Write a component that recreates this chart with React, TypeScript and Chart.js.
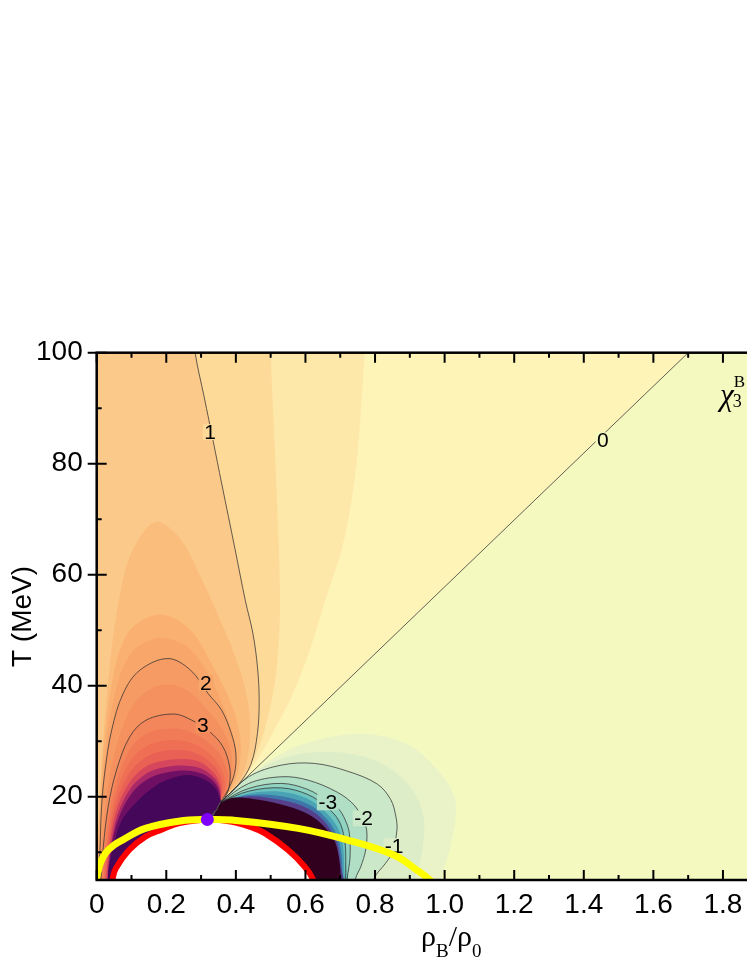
import React, { useEffect, useRef } from 'react';
import { Chart, registerables } from 'chart.js';
Chart.register(...registerables);

type P = [number, number];

// axis ranges / ticks
const xRange: P = [0, 2.0];
const yRange: P = [5, 100];
const xMajorTicks = [0, 0.2, 0.4, 0.6, 0.8, 1.0, 1.2, 1.4, 1.6, 1.8, 2.0];
const xMinorTicks = [0.1, 0.3, 0.5, 0.7, 0.9, 1.1, 1.3, 1.5, 1.7, 1.9];
const yMajorTicks = [20, 40, 60, 80, 100];
const yMinorTicks = [10, 30, 50, 70, 90];

// convergence point of the contours
const CP: P = [0.356, 19.0];

// ---- filled contour regions (rho_B/rho_0, T) ----
const regionBase: P[] = [[-0.1, 0], [-0.1, 110], [2.1, 110], [2.1, 0]];
const regionPos0: P[] = [[-0.1, 0], [-0.1, 110], [1.866, 110], CP, [0.356, 0]];
const regionPos1: P[] = [[-0.1, 0], [-0.1, 110], [0.78, 110], [0.77, 100], [0.76, 90], [0.743, 78], [0.71, 66], [0.657, 55.4], [0.61, 46], [0.56, 38], [0.51, 32], [0.47, 27.5], [0.418, 22.9], CP, [0.356, 0]];
const regionPos2: P[] = [[-0.1, 0], [-0.1, 110], [0.495, 110], [0.5, 100], [0.515, 78], [0.527, 55.4], [0.52, 45], [0.505, 38], [0.48, 31.5], [0.452, 26.8], [0.41, 22.4], CP, [0.356, 0]];
const contour1: P[] = [[0.267, 110], [0.283, 100], [0.309, 92], [0.335, 84], [0.359, 76.5], [0.398, 64.5], [0.427, 55.4], [0.449, 49.4], [0.462, 43.4], [0.467, 37.4], [0.462, 31.4], [0.443, 25.8], [0.405, 22], CP];
const regionBulge1: P[] = [[-0.02, 0], [-0.008, 5], [0.004, 15], [0.018, 30], [0.04, 45], [0.064, 55.4], [0.1, 64], [0.169, 69.5], [0.24, 66.5], [0.3, 59.5], [0.33, 55.4], [0.4, 45], [0.435, 37], [0.44, 30], [0.425, 25], [0.395, 21.7], CP, [0.356, 0]];
const regionBulge2: P[] = [[-0.015, 0], [-0.004, 5], [0.006, 15], [0.022, 30], [0.048, 42], [0.085, 49], [0.135, 52], [0.198, 52.7], [0.27, 50], [0.33, 44], [0.385, 37], [0.412, 31], [0.41, 25.5], [0.387, 21.5], CP, [0.356, 0]];
const regionBulge3: P[] = [[-0.01, 0], [0.0, 5], [0.009, 15], [0.025, 28], [0.054, 39], [0.094, 45.5], [0.145, 48], [0.202, 48.5], [0.27, 46.5], [0.33, 41], [0.372, 35], [0.398, 29.5], [0.402, 25.5], [0.382, 21.3], CP, [0.356, 0]];
const contour2: P[] = [[0.0, 0], [0.005, 5], [0.009, 9.8], [0.014, 18.2], [0.024, 24.8], [0.043, 32], [0.076, 38.6], [0.124, 42.8], [0.205, 44.9], [0.27, 42.8], [0.32, 38.6], [0.359, 35.6], [0.387, 31.4], [0.4, 27.8], [0.396, 24.2], [0.377, 21.2], CP];
const regionLobe2b: P[] = [[0.003, 0], [0.008, 5], [0.014, 10.5], [0.024, 18.2], [0.04, 24.8], [0.068, 31.5], [0.11, 37], [0.16, 39.6], [0.213, 40.2], [0.27, 38.7], [0.32, 35.5], [0.36, 32.3], [0.385, 28.5], [0.39, 24.5], [0.376, 20.8], CP, [0.356, 0]];
const contour3: P[] = [[0.006, 0], [0.012, 5], [0.019, 11], [0.033, 18.2], [0.057, 24.8], [0.095, 30.8], [0.142, 33.8], [0.221, 34.9], [0.273, 33.8], [0.325, 31.7], [0.363, 29.0], [0.382, 25.4], [0.382, 22.4], [0.373, 20.3], CP];
const regionL3a: P[] = [[0.01, 0], [0.016, 5], [0.024, 11], [0.039, 18], [0.066, 24.5], [0.105, 29.3], [0.155, 31.7], [0.228, 32.3], [0.28, 31.4], [0.33, 29.3], [0.362, 26.8], [0.377, 23.7], [0.37, 20.8], CP, [0.356, 0]];
const regionL3b: P[] = [[0.015, 0], [0.02, 5], [0.028, 11], [0.045, 17.8], [0.074, 23.8], [0.115, 27.8], [0.165, 29.7], [0.235, 30.2], [0.285, 29.4], [0.333, 27.3], [0.36, 24.8], [0.37, 22.5], [0.365, 20.5], CP, [0.356, 0]];
const regionL3c: P[] = [[0.02, 0], [0.024, 5], [0.032, 11], [0.05, 17.5], [0.082, 23], [0.125, 26.4], [0.175, 28], [0.243, 28.4], [0.29, 27.7], [0.335, 25.7], [0.358, 23.4], [0.362, 21.2], CP, [0.356, 0]];
const regionL3d: P[] = [[0.024, 0], [0.027, 5], [0.036, 11], [0.055, 17.2], [0.09, 22.2], [0.135, 25.2], [0.185, 26.4], [0.25, 26.8], [0.295, 26.3], [0.335, 24.4], [0.355, 22.3], [0.358, 20.5], CP, [0.356, 0]];
const regionL3e: P[] = [[0.027, 0], [0.03, 5], [0.04, 11], [0.06, 16.8], [0.097, 21.5], [0.143, 24.2], [0.195, 25.3], [0.255, 25.6], [0.3, 25.1], [0.337, 23.4], [0.353, 21.6], CP, [0.356, 0]];
const regionL3f: P[] = [[0.029, 0], [0.032, 5], [0.042, 11], [0.064, 16.3], [0.103, 20.8], [0.15, 23.3], [0.205, 24.4], [0.26, 24.7], [0.305, 24.1], [0.338, 22.6], [0.352, 21], CP, [0.356, 0]];
const regionPurple: P[] = [[0.03, 0], [0.033, 5], [0.035, 7.4], [0.069, 15.3], [0.12, 19.4], [0.17, 22], [0.22, 23.4], [0.264, 23.9], [0.31, 23.1], [0.34, 21.6], [0.352, 20], CP, [0.356, 0]];

const regionNeg1: P[] = [CP, [0.42, 22.7], [0.5, 26.6], [0.6, 29.6], [0.75, 31.3], [0.88, 29.8], [0.97, 25.5], [1.03, 19.5], [1.02, 12], [0.99, 5], [0.985, 0], [0.33, 0], [0.33, 16]];
const regionNeg2: P[] = [CP, [0.44, 23.9], [0.53, 26.8], [0.63, 28.0], [0.74, 27.6], [0.84, 25.2], [0.91, 21], [0.94, 16], [0.935, 10], [0.915, 5], [0.91, 0], [0.33, 0], [0.33, 16]];
const contourM1: P[] = [CP, [0.437, 23.6], [0.531, 25.7], [0.626, 26.0], [0.721, 24.6], [0.806, 22.3], [0.845, 19.5], [0.86, 16.4], [0.863, 14.0], [0.85, 10], [0.83, 8], [0.797, 5.2], [0.785, 0]];
const contourM2: P[] = [CP, [0.437, 22.4], [0.531, 23.6], [0.607, 23.0], [0.692, 20.8], [0.74, 18.5], [0.762, 16.2], [0.776, 14], [0.773, 10.4], [0.759, 7.4], [0.744, 5.2], [0.738, 0]];
const contourM3: P[] = [CP, [0.437, 21.5], [0.531, 22.4], [0.607, 21.3], [0.664, 19.2], [0.695, 17.8], [0.713, 16.0], [0.726, 13.5], [0.728, 9], [0.72, 5.2], [0.716, 0]];
const contourM4: P[] = [CP, [0.437, 21.0], [0.531, 21.6], [0.607, 20.4], [0.66, 18.2], [0.695, 15.8], [0.712, 12.5], [0.716, 8.5], [0.713, 0]];
const regionG2: P[] = [CP, [0.437, 20.6], [0.531, 20.9], [0.607, 19.6], [0.658, 17.2], [0.693, 14.4], [0.708, 11], [0.711, 7], [0.709, 0]];
const regionG3: P[] = [CP, [0.437, 20.3], [0.531, 20.1], [0.607, 18.7], [0.655, 16.4], [0.69, 13.2], [0.704, 9.5], [0.706, 5], [0.705, 0]];
const regionG4: P[] = [CP, [0.437, 20.1], [0.531, 19.4], [0.607, 17.9], [0.652, 15.7], [0.688, 12.2], [0.7, 8.5], [0.703, 0]];
const regionDark: P[] = [CP, [0.39, 19.8], [0.45, 19.6], [0.531, 18.6], [0.6, 17.1], [0.645, 15.2], [0.68, 12.5], [0.695, 9.5], [0.701, 6], [0.702, 0]];
const negClose: P[] = [[0.33, 0], [0.33, 16]];

// phase boundaries
const spinodalRed: P[] = [[0.038, 3], [0.045, 5], [0.055, 7.1], [0.093, 10.4], [0.14, 12.8], [0.188, 14.1], [0.235, 15.2], [0.318, 15.9], [0.389, 15.5], [0.44, 14.6], [0.484, 13.4], [0.55, 10.4], [0.598, 7.4], [0.621, 5.2], [0.628, 3]];
const coexistYellow: P[] = [[-0.004, 4], [0.003, 6.3], [0.012, 8.3], [0.026, 9.9], [0.05, 11.3], [0.074, 12.2], [0.14, 14.3], [0.235, 15.6], [0.318, 15.9], [0.389, 15.8], [0.579, 14.3], [0.721, 12.2], [0.854, 9.5], [0.92, 6.8], [0.958, 5], [0.97, 4]];
const stairLine: P[] = [[0.318, 15.9], [0.33, 16.4], [0.336, 17.2], [0.345, 17.6], [0.35, 18.4], CP];
const criticalPoint: P[] = [[0.318, 15.9]];
const zeroLine: P[] = [CP, [1.866, 110]];

// contour labels
const labelText = ['0', '1', '2', '3', '-3', '-2', '-1'];
const labelX = [1.455, 0.326, 0.314, 0.305, 0.664, 0.767, 0.855];
const labelY = [84.2, 85.7, 40.5, 32.9, 19.0, 16.1, 11.1];

const SANS = '"Liberation Sans", Arial, Helvetica, sans-serif';
const SERIF = '"Liberation Serif", "Times New Roman", serif';

const toXY = (pts: P[]) => pts.map(([x, y]) => ({ x, y }));

export default function App() {
  const ref = useRef<HTMLCanvasElement | null>(null);

  useEffect(() => {
    const layers: any[] = [];
    const fillLayer = (pts: P[], color: string, tension = 0.35) =>
      layers.push({ data: toXY(pts), showLine: true, fill: 'shape', backgroundColor: color, borderWidth: 0, pointRadius: 0, pointHoverRadius: 0, tension, clip: 0 });
    const lineLayer = (pts: P[], color: string, width: number, tension = 0.35, fill: any = false, bg = 'transparent') =>
      layers.push({ data: toXY(pts), showLine: true, fill, backgroundColor: bg, borderColor: color, borderWidth: width, pointRadius: 0, pointHoverRadius: 0, tension, clip: 0 });

    fillLayer(regionBase, '#F4F9C0', 0);
    fillLayer(regionPos0, '#FEF4B8', 0);
    fillLayer(regionPos1, '#FDE8AA');
    fillLayer(regionPos2, '#FDDA98');
    fillLayer([[-0.1, 0], [-0.1, 110], ...contour1, [0.356, 0]], '#FBCA8A');
    fillLayer(regionBulge1, '#FABD7C');
    fillLayer(regionBulge2, '#F9B071');
    fillLayer(regionBulge3, '#F8A66A');
    fillLayer([...contour2, [0.356, 0]], '#F69B64');
    fillLayer(regionLobe2b, '#F5915F');
    fillLayer([...contour3, [0.356, 0]], '#F3865B');
    fillLayer(regionL3a, '#F27B57');
    fillLayer(regionL3b, '#EF6F55');
    fillLayer(regionL3c, '#E96055');
    fillLayer(regionL3d, '#D6465C');
    fillLayer(regionL3e, '#A82868');
    fillLayer(regionL3f, '#6E0F63');
    fillLayer(regionPurple, '#45075A');

    fillLayer(regionNeg1, '#E9F3C7');
    fillLayer(regionNeg2, '#DCEDC8');
    fillLayer([...contourM1, ...negClose], '#CBE8C8');
    fillLayer([...contourM2, ...negClose], '#B0DFC5');
    fillLayer([...contourM3, ...negClose], '#90D3C1');
    fillLayer([...contourM4, ...negClose], '#6CC2BC');
    fillLayer([...regionG2, ...negClose], '#4AA3B5');
    fillLayer([...regionG3, ...negClose], '#3E76A9');
    fillLayer([...regionG4, ...negClose], '#573F8C');
    fillLayer([...regionDark, ...negClose], '#31001E');

    const cl = 'rgba(50,50,50,0.85)';
    lineLayer(zeroLine, cl, 0.9, 0);
    lineLayer(contour1, cl, 0.9);
    lineLayer(contour2, cl, 0.9);
    lineLayer(contour3, cl, 0.9);
    lineLayer(contourM1, cl, 0.9);
    lineLayer(contourM2, cl, 0.9);
    lineLayer(contourM3, cl, 0.9);
    lineLayer(contourM4, cl, 0.9);
    lineLayer(stairLine, 'rgba(80,80,80,0.9)', 1, 0);

    const firstOverlay = layers.length;
    lineLayer(spinodalRed, '#FF0000', 6, 0.4, 'start', '#FFFFFF');
    lineLayer(coexistYellow, '#FFFF00', 7, 0.4);

    layers.push({ data: toXY(criticalPoint), showLine: false, pointRadius: 6.5, pointHoverRadius: 6.5, backgroundColor: '#8000FF', pointBackgroundColor: '#8000FF', pointBorderWidth: 0, borderWidth: 0, clip: 0 });

    layers.forEach((d, i) => { d.order = -i; });

    const LABEL_FONT = `21px ${SANS}`;

    // contour labels with a gap in the line (background sampled from the fill)
    const labelPlugin = {
      id: 'contourLabels',
      beforeDatasetDraw(chart: any, args: any) {
        if (args.index !== firstOverlay) return;
        const { ctx, scales } = chart;
        const xs = scales.x, ys = scales.y;
        ctx.save();
        ctx.font = LABEL_FONT;
        ctx.textAlign = 'center';
        ctx.textBaseline = 'middle';
        labelText.forEach((t, i) => {
          const px = xs.getPixelForValue(labelX[i]);
          const py = ys.getPixelForValue(labelY[i]);
          const w = ctx.measureText(t).width;
          const probes = [[px - w / 2 - 2, py], [px + w / 2 + 2, py], [px, py - 10], [px, py + 10]];
          const cols = probes.map(([qx, qy]) => {
            const d = ctx.getImageData(Math.round(qx), Math.round(qy), 1, 1).data;
            return [d[0], d[1], d[2], d[0] + d[1] + d[2]];
          }).sort((a, b) => b[3] - a[3]);
          const c = cols[1];
          ctx.fillStyle = `rgb(${c[0]},${c[1]},${c[2]})`;
          ctx.fillRect(px - w / 2 - 1.5, py - 8, w + 3, 16);
          ctx.fillStyle = '#000';
          ctx.fillText(t, px, py + 1);
        });
        ctx.restore();
      },
    };

    const decor = {
      id: 'decor',
      afterDatasetsDraw(chart: any) {
        const { ctx, chartArea: a, scales } = chart;
        const xs = scales.x, ys = scales.y;
        ctx.save();
        // frame
        ctx.strokeStyle = '#000';
        ctx.lineWidth = 2.5;
        ctx.strokeRect(a.left, a.top, a.right - a.left, a.bottom - a.top);
        // ticks
        ctx.lineWidth = 2;
        ctx.beginPath();
        xMajorTicks.forEach(v => { const p = xs.getPixelForValue(v); ctx.moveTo(p, a.bottom); ctx.lineTo(p, a.bottom - 10); ctx.moveTo(p, a.top); ctx.lineTo(p, a.top + 10); });
        xMinorTicks.forEach(v => { const p = xs.getPixelForValue(v); ctx.moveTo(p, a.bottom); ctx.lineTo(p, a.bottom - 5); ctx.moveTo(p, a.top); ctx.lineTo(p, a.top + 5); });
        yMajorTicks.forEach(v => { const p = ys.getPixelForValue(v); ctx.moveTo(a.left - 9, p); ctx.lineTo(a.left + 10, p); });
        yMinorTicks.forEach(v => { const p = ys.getPixelForValue(v); ctx.moveTo(a.left, p); ctx.lineTo(a.left + 5, p); });
        ctx.stroke();

        ctx.fillStyle = '#000';
        // y title
        ctx.save();
        ctx.translate(30.5, 616.5);
        ctx.rotate(-Math.PI / 2);
        ctx.font = `28px ${SANS}`;
        ctx.textAlign = 'center';
        ctx.textBaseline = 'alphabetic';
        ctx.fillText('T (MeV)', 0, 0);
        ctx.restore();

        // x title rho_B / rho_0
        ctx.textAlign = 'left';
        ctx.textBaseline = 'alphabetic';
        let cx = 421;
        const base = 946;
        const part = (t: string, size: number, dy: number) => {
          ctx.font = `${size}px ${SERIF}`;
          ctx.fillText(t, cx, base + dy);
          cx += ctx.measureText(t).width;
        };
        part('ρ', 30, 0);
        part('B', 19, 11);
        part('/', 30, 0);
        part('ρ', 30, 0);
        part('0', 19, 11);

        // chi_3^B
        ctx.font = `italic 31px ${SERIF}`;
        ctx.fillText('χ', 720, 405);
        const w = ctx.measureText('χ').width;
        ctx.font = `18px ${SERIF}`;
        ctx.fillText('3', 719 + w, 407);
        ctx.font = `17px ${SERIF}`;
        ctx.fillText('B', 720 + w, 386.7);
        ctx.restore();
      },
    };

    const chart = new Chart(ref.current as HTMLCanvasElement, {
      type: 'scatter',
      data: { datasets: layers },
      options: {
        animation: false,
        responsive: false,
        devicePixelRatio: 1,
        events: [],
        layout: { padding: { top: 352.7, left: 0, right: 20.5, bottom: 0 } },
        plugins: { legend: { display: false }, tooltip: { enabled: false }, filler: { propagate: false } },
        scales: {
          x: {
            type: 'linear',
            min: xRange[0],
            max: xRange[1],
            grid: { display: false, drawTicks: false },
            border: { display: false },
            afterBuildTicks: (s: any) => { s.ticks = xMajorTicks.map(v => ({ value: v })); },
            afterFit: (s: any) => { s.height = 87; },
            ticks: {
              autoSkip: false,
              maxRotation: 0,
              padding: 8,
              color: '#000',
              font: { family: SANS, size: 28 },
              callback: (v: any) => (Number(v) === 0 ? '0' : Number(v).toFixed(1)),
            },
          },
          y: {
            type: 'linear',
            min: yRange[0],
            max: yRange[1],
            grid: { display: false, drawTicks: false },
            border: { display: false },
            afterBuildTicks: (s: any) => { s.ticks = yMajorTicks.map(v => ({ value: v })); },
            afterFit: (s: any) => { s.width = 96.7; },
            ticks: {
              autoSkip: false,
              padding: 14,
              color: '#000',
              font: { family: SANS, size: 28 },
              callback: (v: any) => String(v),
            },
          },
        },
      },
      plugins: [labelPlugin, decor],
    } as any);
    return () => chart.destroy();
  }, []);

  return (
    <div style={{ position: 'fixed', left: 0, top: 0, width: 747, height: 967, overflow: 'hidden', background: '#fff' }}>
      <canvas ref={ref} width={820} height={967} style={{ width: 820, height: 967, display: 'block' }} />
    </div>
  );
}
